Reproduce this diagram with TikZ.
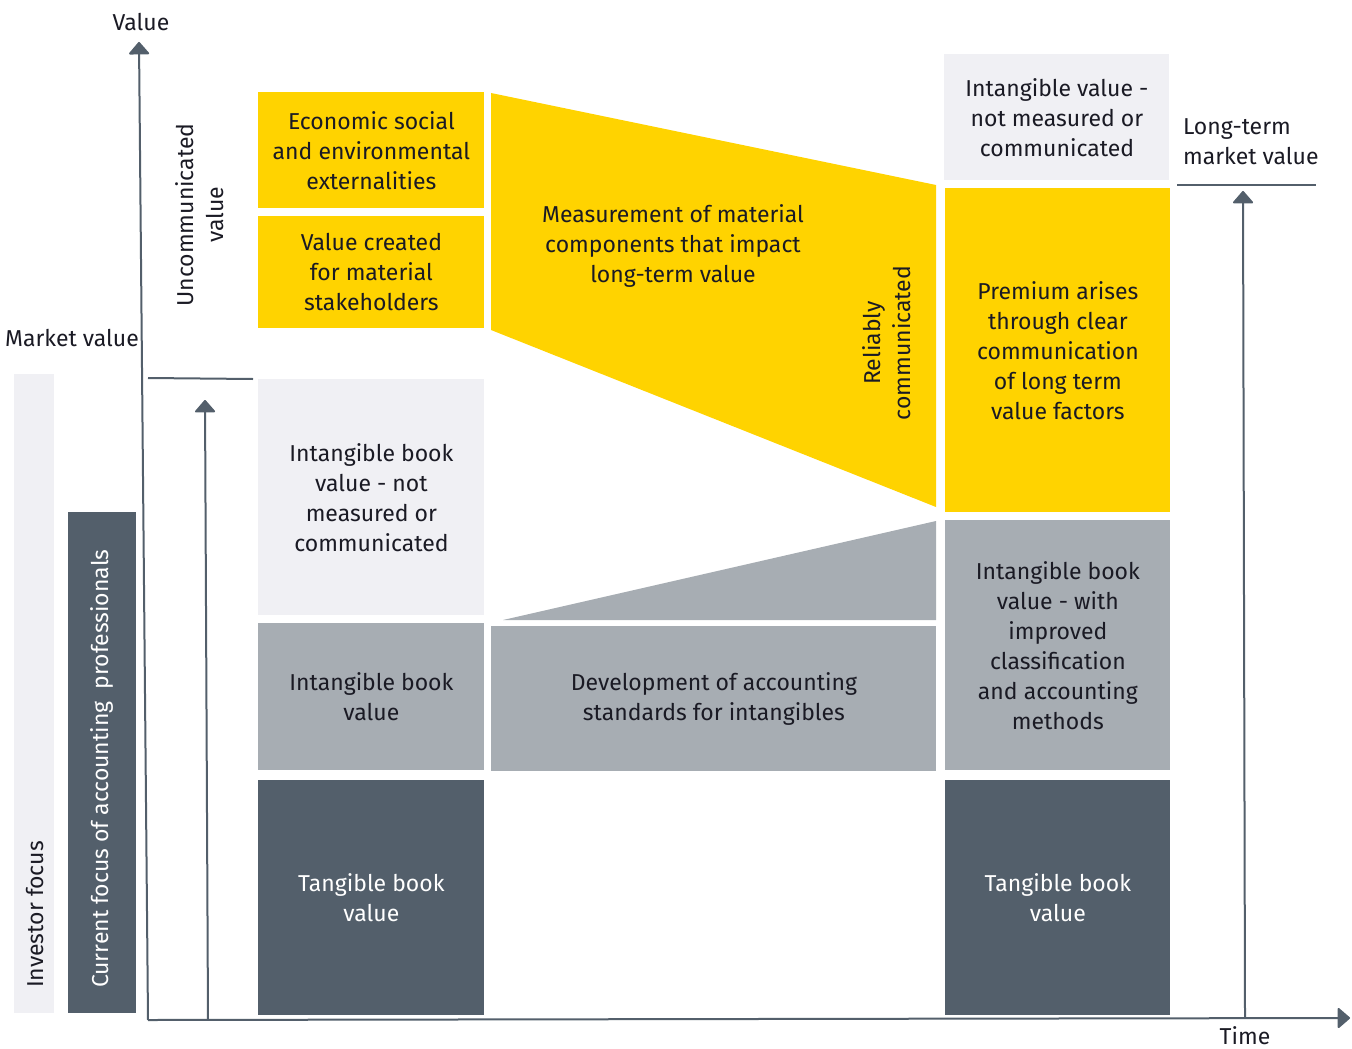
\documentclass[tikz,border=0pt]{standalone}
\usepackage{fontspec}
\setmainfont{Fira Sans}
\usetikzlibrary{arrows.meta}

\definecolor{eyyellow}{HTML}{FFD300}
\definecolor{eyslate}{HTML}{535F6B}
\definecolor{eymid}{HTML}{A7ADB3}
\definecolor{eylight}{HTML}{F0F0F4}
\definecolor{eytext}{HTML}{1A1A24}

\tikzset{
  every node/.style={font=\fontsize{11.5}{15}\selectfont, text=eytext, align=center},
  blk/.style={inner sep=0pt, anchor=north west},
  ybox/.style={blk, fill=eyyellow},
  lbox/.style={blk, fill=eylight},
  mbox/.style={blk, fill=eymid},
  dbox/.style={blk, fill=eyslate, text=white},
  axis/.style={draw=eyslate, line width=1pt},
  tip/.style={-{Triangle[round, width=11pt, length=6.5pt]}},
}

\begin{document}
\begin{tikzpicture}[x=0.5pt, y=-0.5pt]
  \useasboundingbox (0,0) rectangle (1352,1048);
  %%
  % Side bars
  \node[lbox, minimum width=20pt, minimum height=319.5pt] (inv) at (14,374) {};
  \node[dbox, minimum width=34pt, minimum height=250.5pt] (cur) at (68,512) {};
  \node[rotate=90, anchor=west] (invt) at (35,995) {Investor focus};
  \node[rotate=90, anchor=west, text=white] (curt) at (102,995) {Current focus of accounting\ \ professionals};
  %%
  % Left column
  \node[ybox, minimum width=113pt, minimum height=58pt] (econ) at (258,92) {Economic social\\and environmental\\externalities};
  \node[ybox, minimum width=113pt, minimum height=56pt] (vcre) at (258,216) {Value created\\for material\\stakeholders};
  \node[lbox, minimum width=113pt, minimum height=118pt] (ibnm) at (258,379) {Intangible book\\value - not\\measured or\\communicated};
  \node[mbox, minimum width=113pt, minimum height=73.5pt] (ibv) at (258,623) {Intangible book\\value};
  \node[dbox, minimum width=113pt, minimum height=117.5pt] (tbl) at (258,780) {Tangible book\\value};
  %%
  % Middle
  \fill[eyyellow] (491,93) -- (936,185) -- (936,507) -- (491,330) -- cycle;
  \fill[eymid] (503,620) -- (936,521) -- (936,620) -- cycle;
  \node (meas) at (673,246) {Measurement of material\\components that impact\\long-term value};
  \node[rotate=90] (reli) at (887,343) {Reliably\\communicated};
  \node[mbox, minimum width=222.5pt, minimum height=72.5pt] (dev) at (491,626) {Development of accounting\\standards for intangibles};
  %%
  % Right column
  \node[lbox, minimum width=112.5pt, minimum height=63pt] (ivnm) at (944,54) {Intangible value -\\not measured or\\communicated};
  \node[ybox, minimum width=112.5pt, minimum height=162pt] (prem) at (945,188) {Premium arises\\through clear\\communication\\of long term\\value factors};
  \node[mbox, minimum width=112.5pt, minimum height=125pt] (ibwi) at (945,520) {Intangible book\\value - with\\improved\\classification\\and accounting\\methods};
  \node[dbox, minimum width=112.5pt, minimum height=117.5pt] (tbr) at (945,780) {Tangible book\\value};
  %%
  % Axes
  \coordinate (org) at (148,1020);
  \coordinate (vtop) at (139,42);
  \coordinate (tend) at (1350,1018);
  \draw[axis, tip] (org) -- (vtop);
  \draw[axis, tip] (org) -- (tend);
  \node (vlab) at (141,22) {Value};
  \node (tlab) at (1245,1036) {Time};
  %%
  % Market value marks
  \coordinate (mv1) at (148,378);
  \coordinate (mv2) at (253,379);
  \draw[axis] (mv1) -- (mv2);
  \draw[axis, tip] (208,1020) -- (205,400);
  \node (mvlab) at (72,338) {Market value};
  \node[rotate=90] (unco) at (200,215) {Uncommunicated\\value};
  \coordinate (lt1) at (1177,185);
  \coordinate (lt2) at (1316,185);
  \draw[axis] (lt1) -- (lt2);
  \draw[axis, tip] (1245,1018) -- (1243,191);
  \node[align=left, anchor=west] (ltlab) at (1176,142) {Long-term\\market value};
\end{tikzpicture}
\end{document}
